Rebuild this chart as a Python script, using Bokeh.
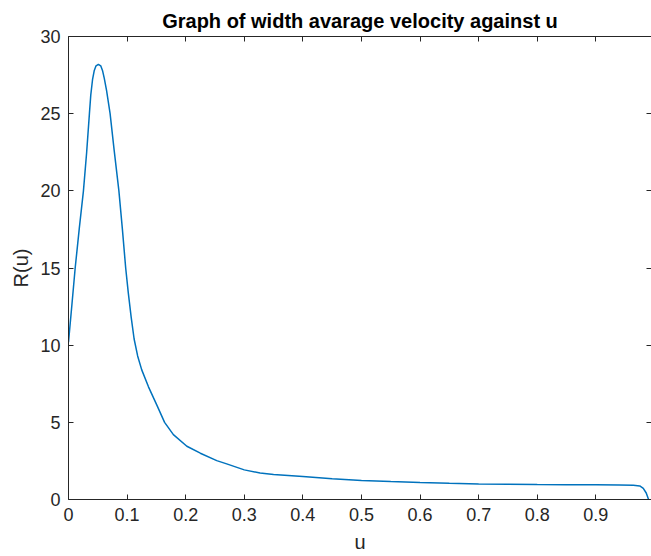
from bokeh.plotting import figure
from bokeh.models import LinearAxis, FixedTicker, Range1d
from bokeh.embed import file_html
from bokeh.resources import INLINE

# ---- data ----
u_values = [0.0, 0.006, 0.0114, 0.0185, 0.0255, 0.031, 0.0357, 0.038, 0.041, 0.044,
            0.047, 0.051, 0.055, 0.058, 0.061, 0.065, 0.071, 0.078, 0.086, 0.092,
            0.0976, 0.102, 0.107, 0.112, 0.118, 0.125, 0.1365, 0.151, 0.164, 0.179,
            0.202, 0.225, 0.253, 0.270, 0.300, 0.327, 0.35, 0.40, 0.45, 0.50,
            0.55, 0.60, 0.65, 0.70, 0.75, 0.80, 0.85, 0.90, 0.94, 0.964,
            0.975, 0.981, 0.986, 0.990]
r_values = [10.2, 12.7, 15.0, 17.6, 20.0, 22.5, 25.0, 26.2, 27.2, 27.8,
            28.1, 28.2, 28.1, 27.8, 27.3, 26.5, 25.0, 22.6, 20.0, 17.5,
            15.0, 13.4, 11.8, 10.4, 9.3, 8.4, 7.3, 6.1, 5.0, 4.2,
            3.45, 3.0, 2.52, 2.31, 1.92, 1.72, 1.62, 1.49, 1.34, 1.23,
            1.16, 1.10, 1.05, 1.01, 0.99, 0.97, 0.96, 0.95, 0.94, 0.92,
            0.88, 0.72, 0.42, 0.0]

x_ticks = [0, 0.1, 0.2, 0.3, 0.4, 0.5, 0.6, 0.7, 0.8, 0.9, 1]
x_tick_labels = ["0", "0.1", "0.2", "0.3", "0.4", "0.5", "0.6", "0.7", "0.8", "0.9", "1"]
y_ticks = [0, 5, 10, 15, 20, 25, 30]
y_tick_labels = ["0", "5", "10", "15", "20", "25", "30"]

title_text = "Graph of width avarage velocity against u"
x_label = "u"
y_label = "R(u)"

FONT = "Liberation Sans"
AX = "#262626"

p = figure(width=651, height=556,
           x_range=Range1d(0, 0.995), y_range=Range1d(0, 30),
           output_backend="svg", toolbar_location=None,
           x_axis_location=None, y_axis_location=None,
           min_border_left=68, min_border_right=0,
           min_border_bottom=57, min_border_top=36,
           background_fill_color="white", border_fill_color="white")
p.outline_line_color = None
p.grid.visible = False

p.title.text = title_text
p.title.text_font = FONT
p.title.text_font_size = "20px"
p.title.text_font_style = "bold"
p.title.text_color = "#000000"
p.title.align = "center"
p.title.vertical_align = "top"
p.title.standoff = 6


def style_axis(ax, ticks, labels, show_labels):
    ax.ticker = FixedTicker(ticks=ticks)
    ax.axis_line_color = AX
    ax.axis_line_width = 1
    ax.major_tick_line_color = AX
    ax.major_tick_in = 5
    ax.major_tick_out = 0
    ax.minor_tick_line_color = None
    ax.major_label_text_font = FONT
    ax.major_label_overrides = {t: l for t, l in zip(ticks, labels)}
    if show_labels:
        ax.major_label_text_font_size = "18px"
        ax.major_label_text_color = AX
    else:
        ax.major_label_text_font_size = "0px"
        ax.major_label_text_color = None
        ax.major_label_standoff = 0
    ax.axis_label_text_font = FONT
    ax.axis_label_text_font_style = "normal"
    ax.axis_label_text_color = AX
    ax.axis_label_text_font_size = "20px"


xb = LinearAxis(axis_label=x_label)
style_axis(xb, x_ticks, x_tick_labels, True)
xb.major_label_standoff = 8
xb.axis_label_standoff = 7
p.add_layout(xb, "below")

yl = LinearAxis(axis_label=y_label)
style_axis(yl, y_ticks, y_tick_labels, True)
yl.major_label_standoff = 8
yl.axis_label_standoff = 5
p.add_layout(yl, "left")

xt = LinearAxis()
style_axis(xt, x_ticks, x_tick_labels, False)
p.add_layout(xt, "above")

yr = LinearAxis()
style_axis(yr, y_ticks, y_tick_labels, False)
p.add_layout(yr, "right")

p.line(u_values, r_values, line_color="#0072BD", line_width=1.5)

open("out.html", "w").write(file_html(p, INLINE))
